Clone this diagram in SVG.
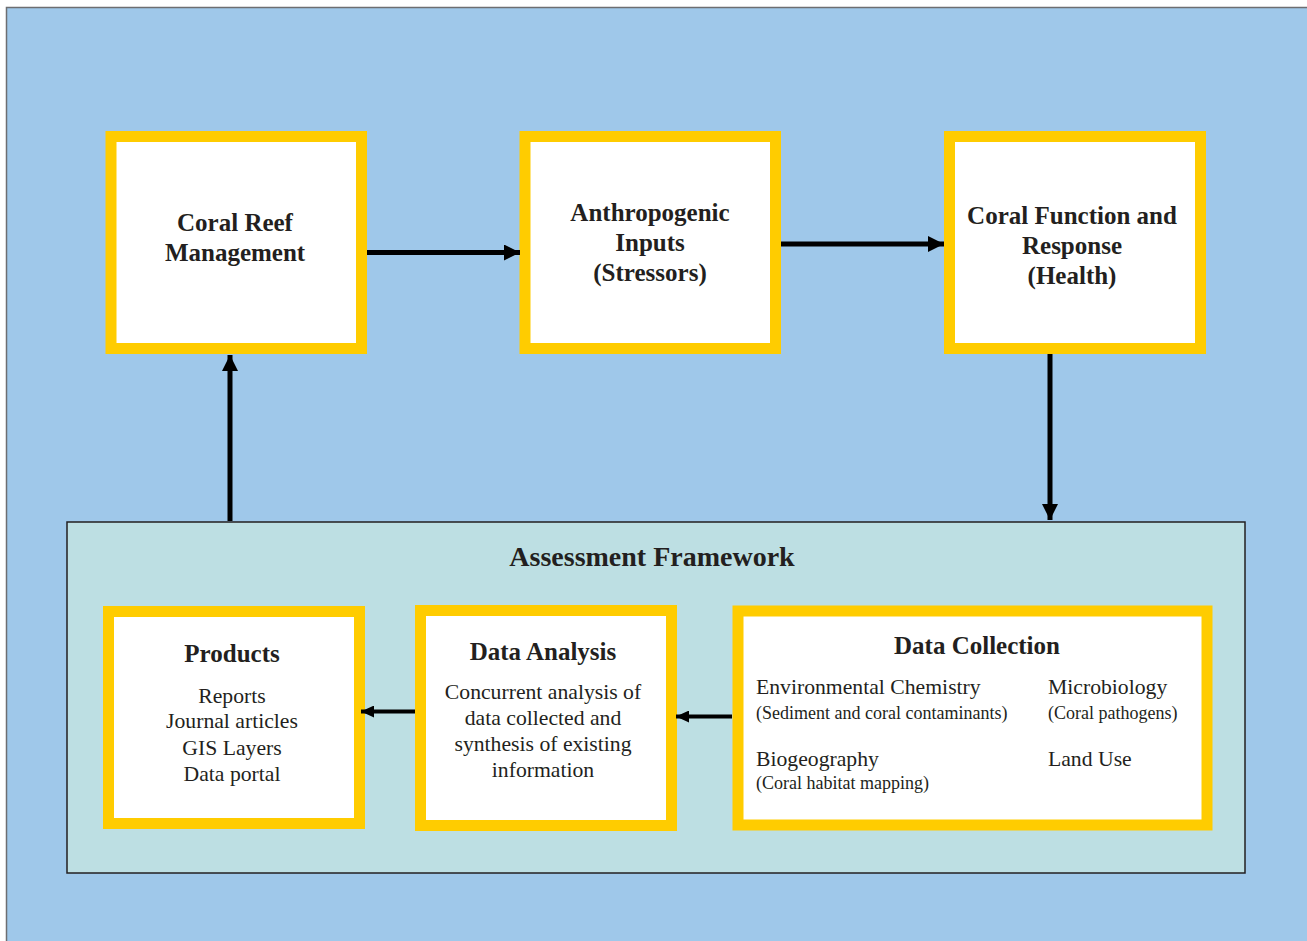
<svg xmlns="http://www.w3.org/2000/svg" width="1307" height="941" viewBox="0 0 1307 941">
<style>
.t{font-family:"Liberation Serif","Times New Roman",serif;fill:#231f20;text-anchor:middle}
.b{font-weight:bold;font-size:25px}
.r{font-size:21.7px}
.s{font-size:18px}
.l{text-anchor:start}
.box{fill:#fff;stroke:#ffcc00;stroke-width:11}
.c{stroke:#000;fill:none}
</style>
<defs>
<marker id="ah" markerUnits="userSpaceOnUse" markerWidth="16" markerHeight="16" refX="16" refY="8" orient="auto"><path d="M0,0 L16,8 L0,16 Z" fill="#000"/></marker>
<marker id="ahs" markerUnits="userSpaceOnUse" markerWidth="13" markerHeight="12" refX="13" refY="6" orient="auto"><path d="M0,0 L13,6 L0,12 Z" fill="#000"/></marker>
</defs>
<rect x="6.5" y="7.5" width="1310" height="940" fill="#9fc8ea" stroke="#6d6e71" stroke-width="1.5"/>
<g id="framework">
<rect x="67" y="522" width="1178" height="351" fill="#bddfe3" stroke="#231f20" stroke-width="1.5"/>
<text class="t" x="652" y="566" font-weight="bold" font-size="28">Assessment Framework</text>
</g>
<g id="management">
<rect class="box" x="111" y="136.5" width="250.5" height="212"/>
<text class="t b" x="235" y="231">Coral Reef</text>
<text class="t b" x="235" y="261">Management</text>
</g>
<g id="inputs">
<rect class="box" x="525" y="136.5" width="250.5" height="212"/>
<text class="t b" x="650" y="221">Anthropogenic</text>
<text class="t b" x="650" y="251">Inputs</text>
<text class="t b" x="650" y="281">(Stressors)</text>
</g>
<g id="health">
<rect class="box" x="949.5" y="136.5" width="251" height="212"/>
<text class="t b" x="1072" y="224">Coral Function and</text>
<text class="t b" x="1072" y="254">Response</text>
<text class="t b" x="1072" y="284">(Health)</text>
</g>
<g id="products">
<rect class="box" x="108.5" y="611.5" width="251" height="212"/>
<text class="t b" x="232" y="662">Products</text>
<text class="t r" x="232" y="703">Reports</text>
<text class="t r" x="232" y="728">Journal articles</text>
<text class="t r" x="232" y="755">GIS Layers</text>
<text class="t r" x="232" y="781">Data portal</text>
</g>
<g id="analysis">
<rect class="box" x="420.5" y="610.5" width="251" height="215"/>
<text class="t b" x="543" y="660">Data Analysis</text>
<text class="t r" x="543" y="699">Concurrent analysis of</text>
<text class="t r" x="543" y="725">data collected and</text>
<text class="t r" x="543" y="751">synthesis of existing</text>
<text class="t r" x="543" y="777">information</text>
</g>
<g id="collection">
<rect class="box" x="738" y="611" width="469" height="214"/>
<text class="t b" x="977" y="654">Data Collection</text>
<text class="t r l" x="756" y="694">Environmental Chemistry</text>
<text class="t s l" x="756" y="719">(Sediment and coral contaminants)</text>
<text class="t r l" x="1048" y="694">Microbiology</text>
<text class="t s l" x="1048" y="719">(Coral pathogens)</text>
<text class="t r l" x="756" y="766">Biogeography</text>
<text class="t s l" x="756" y="789">(Coral habitat mapping)</text>
<text class="t r l" x="1048" y="766">Land Use</text>
</g>
<g id="connectors">
<line class="c" x1="367" y1="252.5" x2="520" y2="252.5" stroke-width="5" marker-end="url(#ah)"/>
<line class="c" x1="781" y1="244" x2="944" y2="244" stroke-width="5" marker-end="url(#ah)"/>
<line class="c" x1="1050" y1="354" x2="1050" y2="520" stroke-width="5" marker-end="url(#ah)"/>
<line class="c" x1="230" y1="521" x2="230" y2="355" stroke-width="5" marker-end="url(#ah)"/>
<line class="c" x1="732" y1="716.5" x2="676" y2="716.5" stroke-width="4" marker-end="url(#ahs)"/>
<line class="c" x1="415" y1="711.5" x2="361" y2="711.5" stroke-width="4" marker-end="url(#ahs)"/>
</g>
</svg>
